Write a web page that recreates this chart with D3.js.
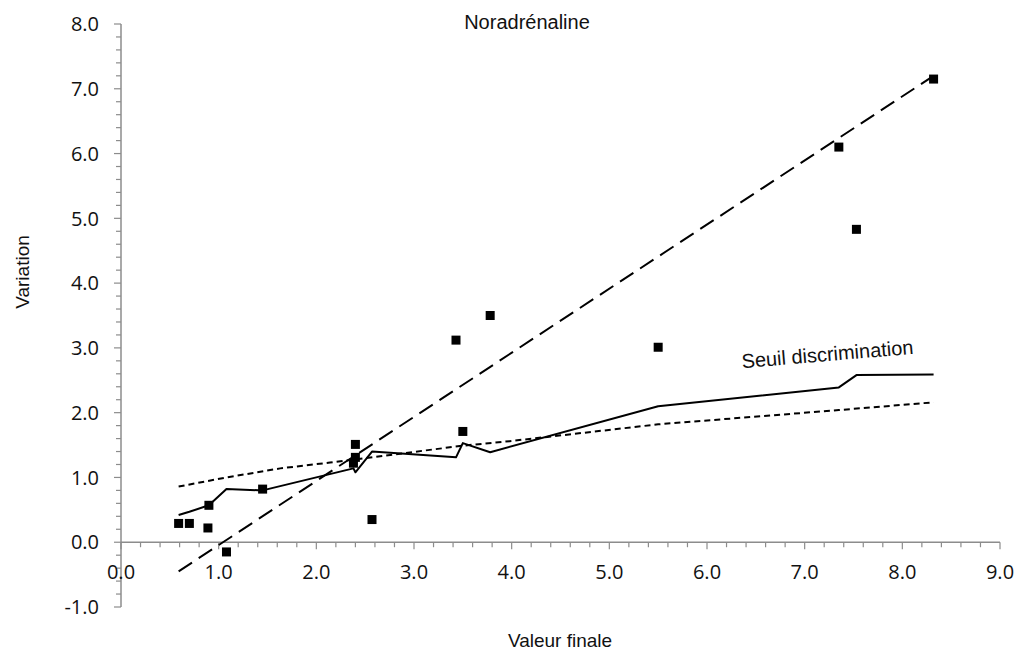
<!DOCTYPE html>
<html>
<head>
<meta charset="utf-8">
<script src="https://cdn.jsdelivr.net/npm/d3@7"></script>
<style>
  body { margin: 0; background: #fff; }
  svg { display: block; font-family: "Liberation Sans", Arial, sans-serif; }
  .tick-label { font-family: "Open Sans", "Liberation Sans", sans-serif; font-size: 20px; fill: #111; }
</style>
</head>
<body>
<svg id="chart" width="1017" height="655"></svg>
<script>
// Observed points (valeur finale, variation)
const pointX = [0.59, 0.70, 0.89, 0.90, 1.08, 1.45, 2.40, 2.40, 2.38, 2.57, 3.43, 3.50, 3.78, 5.50, 7.35, 7.53, 8.32];
const pointY = [0.29, 0.29, 0.22, 0.57, -0.15, 0.82, 1.51, 1.31, 1.22, 0.35, 3.12, 1.71, 3.50, 3.01, 6.10, 4.83, 7.15];

// Regression line (long dashes), drawn between its two end points
const regX = [0.59, 8.32];
const regY = [-0.45, 7.20];

// Seuil discrimination (solid)
const seuilX = [0.59, 0.70, 0.90, 1.08, 1.45, 2.38, 2.40, 2.57, 3.43, 3.50, 3.78, 5.50, 7.35, 7.53, 8.32];
const seuilY = [0.42, 0.47, 0.57, 0.82, 0.80, 1.14, 1.08, 1.40, 1.31, 1.53, 1.39, 2.10, 2.39, 2.58, 2.59];

// Short-dashed curve
const dotX = [0.59, 1.08, 1.63, 2.14, 2.40, 3.50, 3.98, 5.50, 7.35, 8.32];
const dotY = [0.86, 1.00, 1.14, 1.23, 1.28, 1.49, 1.56, 1.82, 2.04, 2.16];

const xTicks = d3.range(0, 9.01, 1);
const yTicks = d3.range(-1, 8.01, 1);

const svg = d3.select("#chart");
const x = d3.scaleLinear().domain([0, 9]).range([121, 1000]);
const y = d3.scaleLinear().domain([-1, 8]).range([607, 24]);
const axisColor = "#8c8c8c";
// plain hyphen for negatives, like the original
const fmt = d => d3.format(".1f")(d).replace("\u2212", "-");

// y axis
const yAxis = svg.append("g");
yAxis.append("line")
  .attr("x1", x(0)).attr("x2", x(0))
  .attr("y1", y(-1)).attr("y2", y(8))
  .attr("stroke", axisColor).attr("stroke-width", 1.5);
yAxis.selectAll("line.minor")
  .data(d3.range(-1, 8.001, 0.2))
  .join("line")
  .attr("class", "minor")
  .attr("x1", d => x(0) - (Math.abs(d - Math.round(d)) < 1e-6 ? 7 : 5))
  .attr("x2", x(0))
  .attr("y1", d => y(d)).attr("y2", d => y(d))
  .attr("stroke", axisColor).attr("stroke-width", 1.2);
yAxis.selectAll("text")
  .data(yTicks)
  .join("text")
  .attr("class", "tick-label")
  .attr("x", 99)
  .attr("y", d => y(d))
  .attr("dy", "0.36em")
  .attr("text-anchor", "end")
  .text(fmt);

// x axis (at y = 0)
const xAxis = svg.append("g");
xAxis.append("line")
  .attr("x1", x(0)).attr("x2", x(9))
  .attr("y1", y(0)).attr("y2", y(0))
  .attr("stroke", axisColor).attr("stroke-width", 1.5);
xAxis.selectAll("line.minor")
  .data(d3.range(0, 9.001, 0.2))
  .join("line")
  .attr("class", "minor")
  .attr("x1", d => x(d)).attr("x2", d => x(d))
  .attr("y1", y(0))
  .attr("y2", d => y(0) + (Math.abs(d - Math.round(d)) < 1e-6 ? 7 : 5))
  .attr("stroke", axisColor).attr("stroke-width", 1.2);
xAxis.selectAll("text")
  .data(xTicks)
  .join("text")
  .attr("class", "tick-label")
  .attr("x", d => x(d))
  .attr("y", 572)
  .attr("dy", "0.36em")
  .attr("text-anchor", "middle")
  .text(fmt);

const line = d3.line().x(d => x(d[0])).y(d => y(d[1]));

// short dashed curve
svg.append("path")
  .attr("d", line(d3.zip(dotX, dotY)))
  .attr("fill", "none").attr("stroke", "#000")
  .attr("stroke-width", 2).attr("stroke-dasharray", "6,4");

// seuil (solid)
svg.append("path")
  .attr("d", line(d3.zip(seuilX, seuilY)))
  .attr("fill", "none").attr("stroke", "#000")
  .attr("stroke-width", 2).attr("stroke-linejoin", "round");

// regression (long dashes)
svg.append("path")
  .attr("d", line(d3.zip(regX, regY)))
  .attr("fill", "none").attr("stroke", "#000")
  .attr("stroke-width", 2).attr("stroke-dasharray", "16,8");

// points
const sq = 9;
svg.append("g").selectAll("rect")
  .data(d3.zip(pointX, pointY))
  .join("rect")
  .attr("x", d => x(d[0]) - sq / 2)
  .attr("y", d => y(d[1]) - sq / 2)
  .attr("width", sq).attr("height", sq)
  .attr("fill", "#000");

// labels
svg.append("text")
  .attr("x", 527).attr("y", 29)
  .attr("text-anchor", "middle")
  .style("font-size", "20px").attr("fill", "#111")
  .text("Noradrénaline");

svg.append("text")
  .attr("transform", "translate(828,361) rotate(-4.8)")
  .attr("text-anchor", "middle")
  .style("font-size", "20px").attr("fill", "#111")
  .text("Seuil discrimination");

svg.append("text")
  .attr("transform", "translate(29,272) rotate(-90)")
  .attr("text-anchor", "middle")
  .style("font-size", "19px").attr("fill", "#111")
  .text("Variation");

svg.append("text")
  .attr("x", 560).attr("y", 647)
  .attr("text-anchor", "middle")
  .style("font-size", "19px").attr("fill", "#111")
  .text("Valeur finale");
</script>
</body>
</html>
